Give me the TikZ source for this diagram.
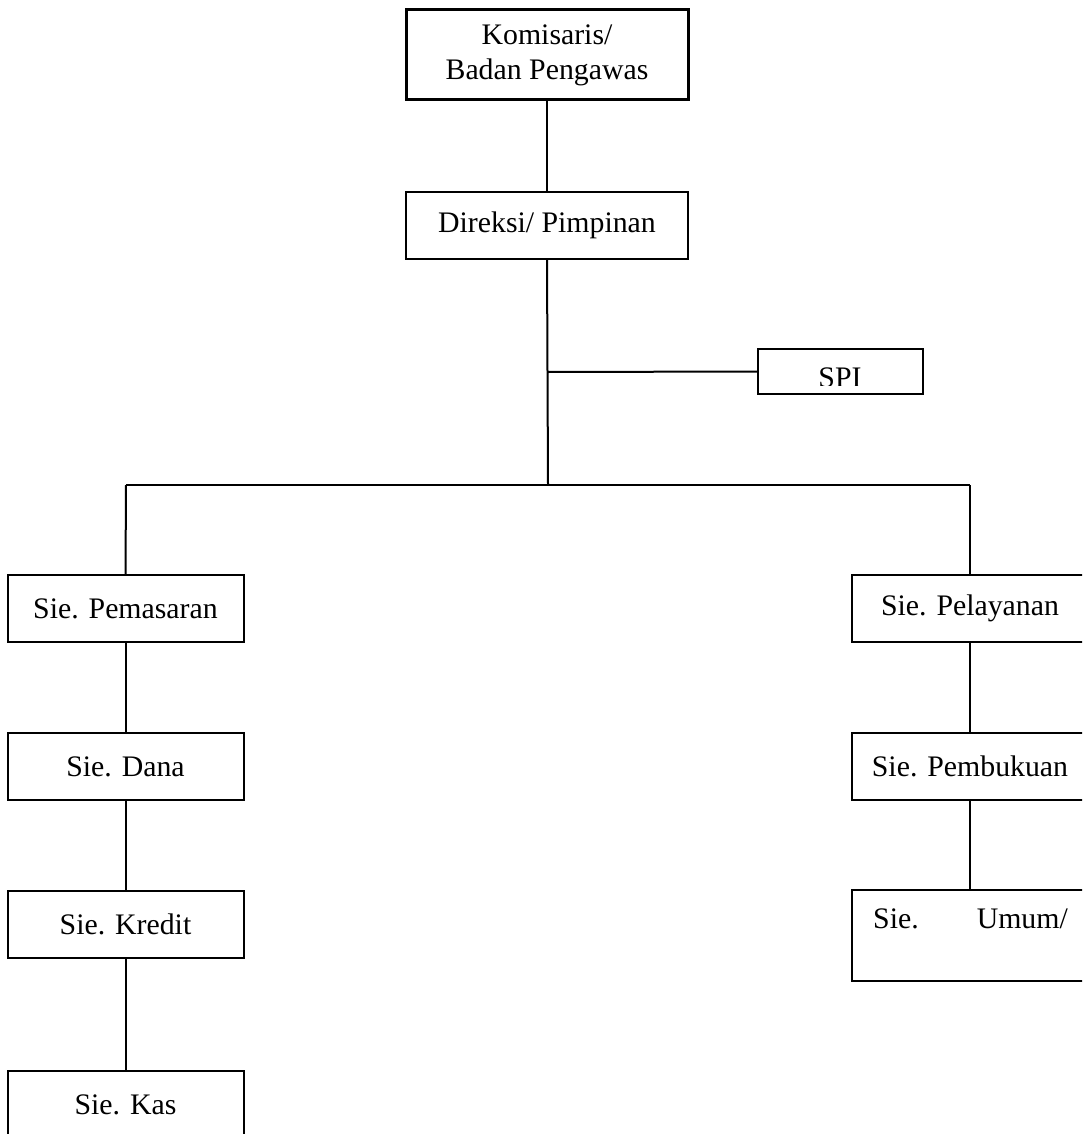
\documentclass[tikz,border=0pt]{standalone}
\usepackage{fontspec}
\setmainfont{Liberation Serif}
\begin{document}
\begin{tikzpicture}[x=1pt,y=-1pt,
  box/.style={draw,line width=2pt,inner sep=0pt,minimum width=236pt,minimum height=67pt,align=center,font=\fontsize{29.8}{35}\selectfont},
  link/.style={line width=2pt}]
\useasboundingbox (0,0) rectangle (1082,1134);
\clip (0,0) rectangle (1082,1134);
\node[box,line width=3pt,minimum width=282pt,minimum height=90pt] (kom) at (547,55) {Komisaris/\\Badan Pengawas};
\node[box,minimum width=282pt] (dir) at (547,225) {Direksi/ Pimpinan};
\node[box,minimum width=165pt,minimum height=45pt] (spi) at (840.5,371.5) {};
\begin{scope}
\clip (760,350) rectangle (920,385);
\node[font=\fontsize{29.8}{35}\selectfont,inner sep=0pt,anchor=base] (spit) at (840,387) {SPI};
\end{scope}
\node[box] (pem) at (125.5,608.5) {Sie. Pemasaran};
\node[box] (dana) at (125.5,766.5) {Sie. Dana};
\node[box] (kred) at (125.5,924) {Sie. Kredit};
\node[box] (kas) at (125.5,1104.5) {Sie. Kas};
\node[box] (pel) at (970,608.5) {Sie. Pelayanan};
\node[box] (pemb) at (970,766.5) {Sie. Pembukuan};
\node[box,minimum height=91pt] (umum) at (970,935.5) {};
\node[font=\fontsize{29.8}{35}\selectfont,inner sep=0pt,anchor=base west] (umt1) at (873,928) {Sie.};
\node[font=\fontsize{29.8}{35}\selectfont,inner sep=0pt,anchor=base east] (umt2) at (1068,928) {Umum/};
\coordinate (js) at (548,372);
\coordinate (j) at (548,485);
\coordinate (bl) at (126,485);
\coordinate (br) at (970,485);
\draw[link] (kom.south) -- (dir.north);
\draw[link] (dir.south) -- (j);
\draw[link] (js) -- (spi.west);
\draw[link] (bl) -- (br);
\draw[link] (bl) -- (pem.north);
\draw[link] (br) -- (pel.north);
\draw[link] (pem) -- (dana);
\draw[link] (dana) -- (kred);
\draw[link] (kred) -- (kas);
\draw[link] (pel) -- (pemb);
\draw[link] (pemb) -- (umum);
\end{tikzpicture}
\end{document}
